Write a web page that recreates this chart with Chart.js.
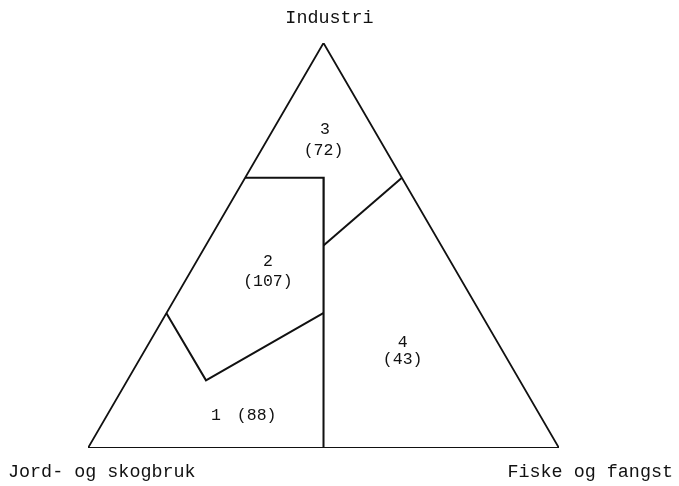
<!DOCTYPE html>
<html><head><meta charset="utf-8">
<script src="https://cdn.jsdelivr.net/npm/chart.js@4/dist/chart.umd.min.js"></script>
<style>html,body{margin:0;padding:0;background:#fff}#w{width:679px;height:486px}</style>
</head><body><div id="w"><canvas id="c"></canvas></div>
<script>
// Ternary components in percent: Jord- og skogbruk, Industri, Fiske og fangst
const cornerNames = ['Jord- og skogbruk', 'Industri', 'Fiske og fangst'];
// Triangle outline (vertices: Jord, Industri, Fiske, back to Jord)
const outlineIndustri = [0, 100, 0, 0];
const outlineFiske    = [0, 0, 100, 0];
// Boundary A: box top edge, then vertical line (Jord = Fiske) down to base
const boundAIndustri = [66.7, 66.7, 0];
const boundAFiske    = [0, 16.7, 50];
// Boundary B: between group 3 and group 4
const boundBIndustri = [50, 66.7];
const boundBFiske    = [25, 33.3];
// Boundary C: between group 1 and group 2
const boundCIndustri = [33.3, 16.7, 33.3];
const boundCFiske    = [0, 16.7, 33.3];
// Groups
const groupNumbers = ['1', '2', '3', '4'];
const groupCounts  = [88, 107, 72, 43];

function toXY(ind, fis) {
  return ind.map((v, i) => ({ x: fis[i] + v / 2, y: v }));
}

const lineDs = (ind, fis, w) => ({
  data: toXY(ind, fis), showLine: true, borderColor: '#111', borderWidth: w,
  pointRadius: 0, fill: false, tension: 0, borderJoinStyle: 'miter'
});

const labelPlugin = {
  id: 'labels',
  afterDraw(chart) {
    const { ctx, scales: { x, y } } = chart;
    const px = v => x.getPixelForValue(v), py = v => y.getPixelForValue(v);
    ctx.save();
    ctx.fillStyle = '#111';
    ctx.textBaseline = 'middle';
    // corner names
    ctx.font = '18.4px "Liberation Mono", monospace';
    ctx.textAlign = 'center';
    ctx.fillText(cornerNames[1], px(50) + 6, py(100) - 25);
    ctx.textAlign = 'left';
    ctx.fillText(cornerNames[0], px(0) - 80, py(0) + 24);
    ctx.textAlign = 'right';
    ctx.fillText(cornerNames[2], px(100) + 114, py(0) + 24);
    // group labels
    ctx.font = '16.5px "Liberation Mono", monospace';
    ctx.textAlign = 'center';
    // group 3
    ctx.fillText(groupNumbers[2], px(50.3), py(78.7));
    ctx.fillText('(' + groupCounts[2] + ')', px(50), py(73.4));
    // group 2
    ctx.fillText(groupNumbers[1], px(38.2), py(45.9));
    ctx.fillText('(' + groupCounts[1] + ')', px(38.2), py(41.2));
    // group 1
    ctx.textAlign = 'left';
    ctx.fillText(groupNumbers[0], px(26.1), py(8.0));
    ctx.fillText('(' + groupCounts[0] + ')', px(31.6), py(8.0));
    // group 4
    ctx.textAlign = 'center';
    ctx.fillText(groupNumbers[3], px(66.8), py(26.0));
    ctx.fillText('(' + groupCounts[3] + ')', px(66.8), py(21.8));
    ctx.restore();
  }
};

new Chart(document.getElementById('c'), {
  type: 'scatter',
  data: {
    datasets: [
      lineDs(outlineIndustri, outlineFiske, 1.8),
      lineDs(boundAIndustri, boundAFiske, 2),
      lineDs(boundBIndustri, boundBFiske, 2),
      lineDs(boundCIndustri, boundCFiske, 2)
    ]
  },
  options: {
    responsive: true, maintainAspectRatio: false, animation: false,
    layout: { padding: { left: 88, right: 120, top: 43, bottom: 38 } },
    plugins: { legend: { display: false }, tooltip: { enabled: false } },
    scales: {
      x: { type: 'linear', min: 0, max: 100, display: false },
      y: { type: 'linear', min: 0, max: 100, display: false }
    }
  },
  plugins: [labelPlugin]
});
</script>
</body></html>
